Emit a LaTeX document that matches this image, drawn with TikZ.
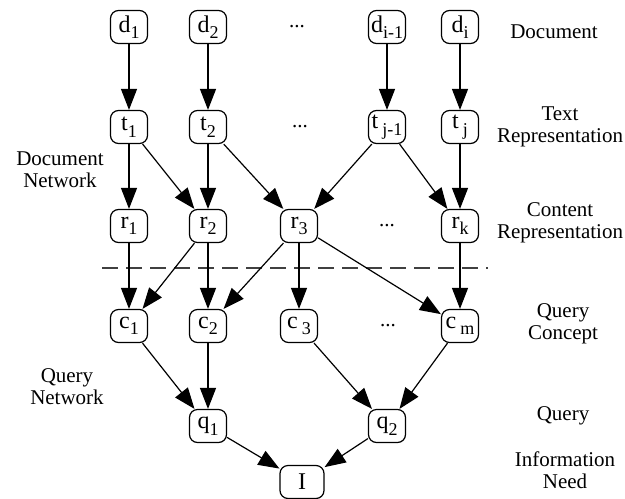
\documentclass[tikz,border=0pt]{standalone}
\usepackage{fontspec}
\setmainfont{Liberation Serif}
\usetikzlibrary{arrows.meta}
\def\ix#1{\raisebox{-0.6ex}{\fontsize{9}{10}\selectfont #1}}

\begin{document}
\begin{tikzpicture}[>={Triangle[width=8pt,length=10.5pt]}, line width=0.6pt, var/.style={draw, rounded corners=4pt, minimum width=18.5pt, minimum height=16.5pt, inner sep=1.2pt, font=\fontsize{12}{13}\selectfont}, lbl/.style={align=center, font=\fontsize{10.5}{11}\selectfont}, dots/.style={font=\fontsize{10.5}{11}\selectfont}, cut/.style={dash pattern=on 8pt off 4pt, draw=black!75, line width=0.55pt}]
	\useasboundingbox (0pt, 0pt) rectangle (312.5pt, -249pt);
	\draw (64.5pt, -13.5pt)node[var](d1){d\ix{1}};
	\draw (104.0pt, -13.5pt)node[var](d2){d\ix{2}};
	\draw (148.5pt, -13.5pt)node[dots](dd){...};
	\draw (193.5pt, -13.5pt)node[var](d3){d\ix{i-1}};
	\draw (230.0pt, -13.5pt)node[var](d4){d\ix{i}};
	\draw (64.5pt, -63.5pt)node[var](t1){t\ix{1}};
	\draw (104.0pt, -63.5pt)node[var](t2){t\ix{2}};
	\draw (150.0pt, -63.5pt)node[dots](td){...};
	\draw (193.5pt, -63.5pt)node[var](t3){t\,\ix{j-1}};
	\draw (230.0pt, -63.5pt)node[var](t4){t\,\ix{j}};
	\draw (64.5pt, -113.0pt)node[var](r1){r\ix{1}};
	\draw (104.0pt, -113.0pt)node[var](r2){r\ix{2}};
	\draw (149.5pt, -113.0pt)node[var](r3){r\ix{3}};
	\draw (193.5pt, -113.0pt)node[dots](rd){...};
	\draw (230.0pt, -113.0pt)node[var](r4){r\ix{k}};
	\draw (64.5pt, -163.0pt)node[var](c1){c\ix{1}};
	\draw (104.0pt, -163.0pt)node[var](c2){c\ix{2}};
	\draw (149.5pt, -163.0pt)node[var](c3){c\,\ix{3}};
	\draw (194.0pt, -163.0pt)node[dots](cd){...};
	\draw (230.0pt, -163.0pt)node[var](c4){c\,\ix{m}};
	\draw (104.0pt, -213.0pt)node[var](q1){q\ix{1}};
	\draw (193.5pt, -213.0pt)node[var](q2){q\ix{2}};
	\draw (151.0pt, -241.0pt)node[var, minimum width=22pt](I){I};
	\coordinate (cutL) at (51pt, -134pt);
	\coordinate (cutR) at (244pt, -134pt);
	\draw[cut] (cutL) -- (cutR);
	\draw (30.0pt, -85.0pt)node[lbl](docnet){Document\\Network};
	\draw (33.5pt, -193.5pt)node[lbl](qnet){Query\\Network};
	\draw (277.0pt, -16.0pt)node[lbl](ldoc){Document};
	\draw (280.0pt, -63.5pt)node[lbl](ltext){Text\\Representation};
	\draw (280.0pt, -111.5pt)node[lbl](lcont){Content\\Representation};
	\draw (281.5pt, -162.0pt)node[lbl](lconc){Query\\Concept};
	\draw (281.5pt, -208.0pt)node[lbl](lquery){Query};
	\draw (282.5pt, -235.0pt)node[lbl](lneed){Information\\Need};
	\path[->] (d1) edge (t1);
	\path[->] (d2) edge (t2);
	\path[->] (d3) edge (t3);
	\path[->] (d4) edge (t4);
	\path[->] (t1) edge (r1);
	\path[->] (t1) edge (r2);
	\path[->] (t2) edge (r2);
	\path[->] (t2) edge (r3);
	\path[->] (t3) edge (r3);
	\path[->] (t3) edge (r4);
	\path[->] (t4) edge (r4);
	\path[->] (r1) edge (c1);
	\path[->] (r2) edge (c1);
	\path[->] (r2) edge (c2);
	\path[->] (r3) edge (c2);
	\path[->] (r3) edge (c3);
	\path[->] (r3) edge (c4);
	\path[->] (r4) edge (c4);
	\path[->] (c1) edge (q1);
	\path[->] (c2) edge (q1);
	\path[->] (c3) edge (q2);
	\path[->] (c4) edge (q2);
	\path[->] (q1) edge (I);
	\path[->] (q2) edge (I);
\end{tikzpicture}
\end{document}
